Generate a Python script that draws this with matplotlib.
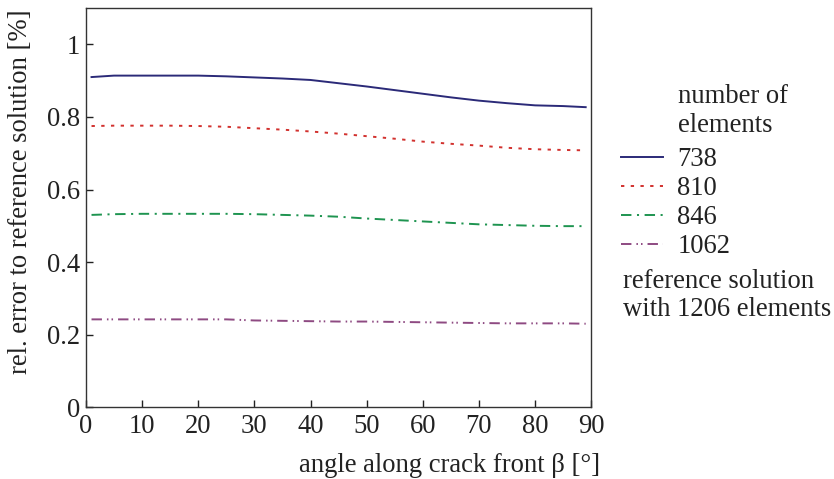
import matplotlib
matplotlib.use("Agg")
import matplotlib.pyplot as plt

plt.rcParams['font.family'] = ['Liberation Serif', 'DejaVu Serif']
plt.rcParams['lines.scale_dashes'] = False

angles = [1, 5, 10, 15, 20, 25, 30, 35, 40, 45, 50, 55, 60, 65, 70, 75, 80, 85, 89]
err_738 = [0.910, 0.914, 0.914, 0.914, 0.914, 0.912, 0.909, 0.906, 0.902, 0.893, 0.884,
           0.874, 0.864, 0.854, 0.845, 0.838, 0.832, 0.830, 0.827]
err_810 = [0.775, 0.776, 0.776, 0.776, 0.775, 0.773, 0.769, 0.765, 0.760, 0.754, 0.747,
           0.740, 0.732, 0.726, 0.721, 0.715, 0.711, 0.709, 0.708]
err_846 = [0.530, 0.532, 0.533, 0.533, 0.533, 0.533, 0.532, 0.530, 0.528, 0.525, 0.520,
           0.516, 0.512, 0.508, 0.504, 0.502, 0.500, 0.499, 0.499]
err_1062 = [0.242, 0.242, 0.242, 0.242, 0.242, 0.242, 0.239, 0.238, 0.237, 0.236, 0.236,
            0.235, 0.234, 0.233, 0.232, 0.231, 0.231, 0.231, 0.230]
series_labels = ['738', '810', '846', '1062']
xticks = [0, 10, 20, 30, 40, 50, 60, 70, 80, 90]
yticks = [0, 0.2, 0.4, 0.6, 0.8, 1.0]
ytick_labels = ['0', '0.2', '0.4', '0.6', '0.8', '1']

FS = 19.2
TXT = '#222222'

fig = plt.figure(figsize=(8.34, 4.79), dpi=100)
ax = fig.add_axes([0.103, 0.150, 0.606, 0.833])

styles = [
    dict(color='#2b2a78', linestyle='-'),
    dict(color='#d2312e', linestyle=(0, (2.4, 4.6))),
    dict(color='#1e9450', linestyle=(0, (7.5, 4.0, 1.5, 4.0))),
    dict(color='#8e4a82', linestyle=(0, (7.5, 3.6, 1.1, 2.2, 1.1, 3.6))),
]
for vals, lab, st in zip([err_738, err_810, err_846, err_1062], series_labels, styles):
    ax.plot(angles, vals, lw=1.4, label=lab, **st)

ax.set_xlim(0, 90)
ax.set_ylim(0, 1.1)
ax.set_xticks(xticks)
ax.set_xticklabels([str(t) for t in xticks])
ax.set_yticks(yticks)
ax.set_yticklabels(ytick_labels)
ax.tick_params(direction='in', length=5, width=1, labelsize=FS, colors=TXT)
ax.tick_params(axis='x', pad=5)
ax.tick_params(axis='y', pad=4)
for s in ax.spines.values():
    s.set_linewidth(1.0)
    s.set_color('#333333')

ax.set_ylabel('rel. error to reference solution [%]', fontsize=FS, color=TXT)
ax.yaxis.set_label_coords(-0.105, 0.54)
ax.set_xlabel('angle along crack front β [°]', fontsize=FS, color=TXT, loc='right')
ax.xaxis.set_label_coords(1.018, -0.115)

leg = fig.legend(loc='upper left', bbox_to_anchor=(0.745, 0.693), frameon=False,
                 fontsize=FS, handlelength=1.55, handletextpad=0.55, labelspacing=0.15,
                 borderpad=0, borderaxespad=0)
for t in leg.get_texts():
    t.set_color(TXT)

fig.text(678 / 834, 1 - 97 / 479, 'number of', fontsize=FS, va='center', color=TXT)
fig.text(678 / 834, 1 - 126 / 479, 'elements', fontsize=FS, va='center', color=TXT)
fig.text(623 / 834, 1 - 282 / 479, 'reference solution', fontsize=FS, va='center', color=TXT)
fig.text(623 / 834, 1 - 310 / 479, 'with 1206 elements', fontsize=FS, va='center', color=TXT)

fig.savefig('out.png', dpi=100)
